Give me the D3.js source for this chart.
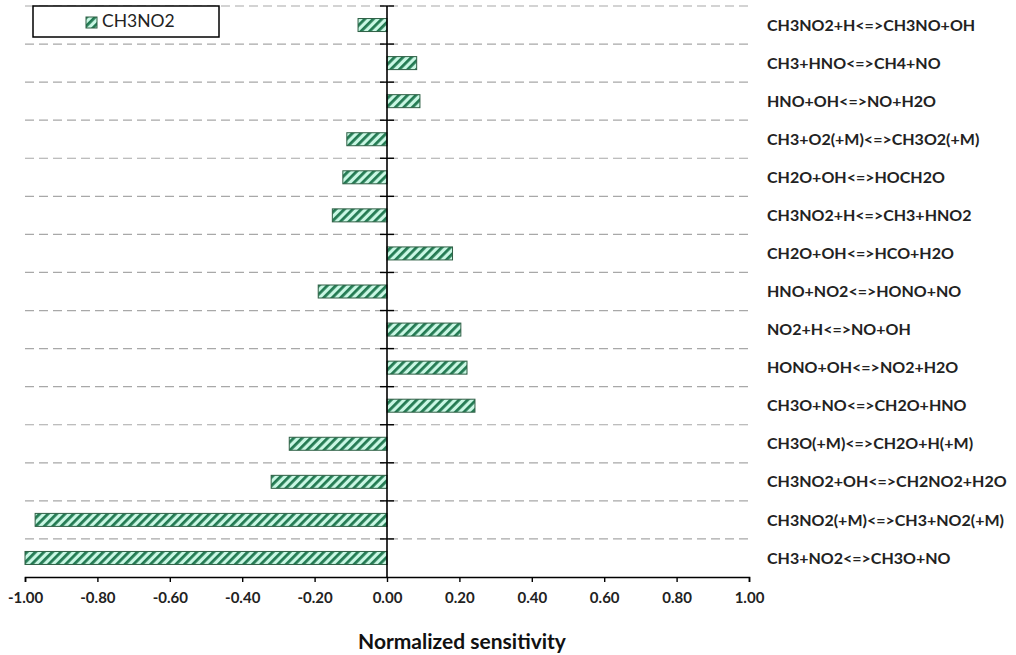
<!DOCTYPE html>
<html><head><meta charset="utf-8">
<script src="https://cdn.jsdelivr.net/npm/d3@7"></script>
<style>body{margin:0;background:#fff}svg{display:block}</style>
</head><body>
<script>
const reactions = [
 "CH3NO2+H<=>CH3NO+OH","CH3+HNO<=>CH4+NO","HNO+OH<=>NO+H2O","CH3+O2(+M)<=>CH3O2(+M)",
 "CH2O+OH<=>HOCH2O","CH3NO2+H<=>CH3+HNO2","CH2O+OH<=>HCO+H2O","HNO+NO2<=>HONO+NO",
 "NO2+H<=>NO+OH","HONO+OH<=>NO2+H2O","CH3O+NO<=>CH2O+HNO","CH3O(+M)<=>CH2O+H(+M)",
 "CH3NO2+OH<=>CH2NO2+H2O","CH3NO2(+M)<=>CH3+NO2(+M)","CH3+NO2<=>CH3O+NO"];
const sensitivity = [-0.080,0.082,0.091,-0.111,-0.122,-0.151,0.181,-0.190,0.204,0.221,0.243,-0.270,-0.320,-0.972,-1.000];
const xTicks = [-1,-0.8,-0.6,-0.4,-0.2,0,0.2,0.4,0.6,0.8,1];
const seriesName = "CH3NO2";
const xTitle = "Normalized sensitivity";

const W=1016,H=655;
const FONT="Lato, 'Open Sans', sans-serif";
const svg=d3.select("body").append("svg").attr("width",W).attr("height",H);
const L=25,R=749,T=6,B=577;
const x=d3.scaleLinear().domain([-1,1]).range([L,R]);
const y=d3.scaleBand().domain(reactions).range([T,B]).paddingInner(0).paddingOuter(0);
const bw=y.bandwidth(), bh=13;

const defs=svg.append("defs");
const pat=defs.append("pattern").attr("id","hatch").attr("patternUnits","userSpaceOnUse")
 .attr("width",6).attr("height",6).attr("patternTransform","rotate(45)");
pat.append("rect").attr("width",6).attr("height",6).attr("fill","#c9f7e4");
pat.append("rect").attr("width",2.8).attr("height",6).attr("fill","#237a52");

// gridlines at band boundaries
const bounds=reactions.map(r=>y(r));
svg.append("g").selectAll("line").data(bounds).join("line")
 .attr("x1",L).attr("x2",R+3).attr("y1",d=>d).attr("y2",d=>d)
 .attr("stroke","#a8a8a8").attr("stroke-width",1.2).attr("stroke-dasharray","9,5");

// bars
svg.append("g").selectAll("rect").data(reactions).join("rect")
 .attr("x",(d,i)=>x(Math.min(0,sensitivity[i])))
 .attr("width",(d,i)=>Math.abs(x(sensitivity[i])-x(0)))
 .attr("y",d=>y(d)+bw/2-bh/2).attr("height",bh)
 .attr("fill","url(#hatch)").attr("stroke","#2f5f45").attr("stroke-width",1);

// zero axis
svg.append("line").attr("x1",x(0)).attr("x2",x(0)).attr("y1",T).attr("y2",B)
 .attr("stroke","#000").attr("stroke-width",1.6);
svg.append("g").selectAll("line").data(bounds).join("line")
 .attr("x1",x(0)-7).attr("x2",x(0)+7).attr("y1",d=>d).attr("y2",d=>d)
 .attr("stroke","#000").attr("stroke-width",1.4);

// bottom axis
const fmt=d=>d3.format(".2f")(d).replace("\u2212","-");
const ax=svg.append("g").attr("transform",`translate(0,${B})`)
 .call(d3.axisBottom(x).tickValues(xTicks).tickFormat(fmt).tickSizeOuter(0).tickSize(5).tickPadding(10));
ax.select(".domain").attr("stroke","#000").attr("stroke-width",1.6);
ax.selectAll(".tick line").attr("stroke","#000").attr("stroke-width",1.4);
ax.selectAll(".tick text").attr("font-family",FONT).attr("font-weight","bold")
 .attr("font-size",15).attr("fill","#222");

// category labels
svg.append("g").selectAll("text").data(reactions).join("text")
 .attr("x",767).attr("y",d=>y(d)+bw/2).attr("dy","0.35em")
 .attr("font-family",FONT).attr("font-weight","bold")
 .attr("font-size",16).attr("fill","#222").text(d=>d);

// title
svg.append("text").attr("x",462).attr("y",642).attr("dy","0.35em").attr("text-anchor","middle")
 .attr("font-family",FONT).attr("font-weight","bold")
 .attr("font-size",21).attr("fill","#111").text(xTitle);

// legend
svg.append("rect").attr("x",33).attr("y",6).attr("width",186).attr("height",31)
 .attr("fill","#fff").attr("stroke","#000").attr("stroke-width",1.5);
svg.append("rect").attr("x",86).attr("y",17).attr("width",11).attr("height",11)
 .attr("fill","url(#hatch)").attr("stroke","#2f5f45");
svg.append("text").attr("x",102).attr("y",21).attr("dy","0.35em")
 .attr("font-family",FONT).attr("font-size",17.5).attr("fill","#222").text(seriesName);
</script>
</body></html>
